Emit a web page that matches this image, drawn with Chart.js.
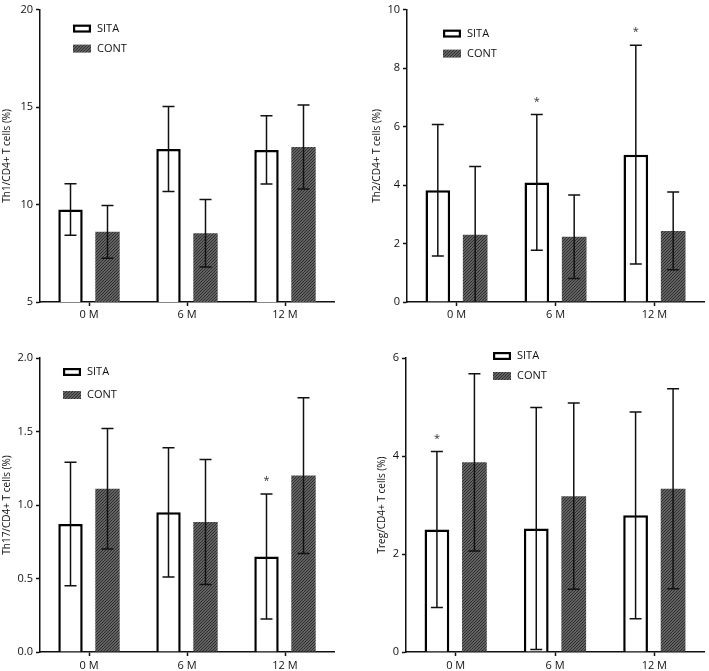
<!DOCTYPE html>
<html><head><meta charset="utf-8">
<script src="https://cdn.jsdelivr.net/npm/chart.js@4"></script>
<style>
html,body{margin:0;padding:0;background:#fff;}
#wrap{position:relative;width:709px;height:671px;overflow:hidden;}
canvas{position:absolute;}
</style></head><body>
<div id="wrap">
<canvas id="c1" width="354" height="335" style="left:0;top:0"></canvas>
<canvas id="c2" width="355" height="335" style="left:354px;top:0"></canvas>
<canvas id="c3" width="354" height="336" style="left:0;top:335px"></canvas>
<canvas id="c4" width="355" height="336" style="left:354px;top:335px"></canvas>
</div>
<script>
// ---------- data ----------
const categories = ['0 M', '6 M', '12 M'];
const seriesNames = ['SITA', 'CONT'];

const th1Sita   = [9.75, 12.85, 12.80];
const th1SitaSd = [1.32, 2.18, 1.75];
const th1Cont   = [8.60, 8.53, 12.95];
const th1ContSd = [1.35, 1.73, 2.15];
const th1Stars  = [false, false, false];
const th1Ticks  = [5, 10, 15, 20];

const th2Sita   = [3.82, 4.09, 5.04];
const th2SitaSd = [2.25, 2.32, 3.74];
const th2Cont   = [2.30, 2.23, 2.43];
const th2ContSd = [2.33, 1.43, 1.33];
const th2Stars  = [false, true, true];
const th2Ticks  = [0, 2, 4, 6, 8, 10];

const th17Sita   = [0.87, 0.95, 0.65];
const th17SitaSd = [0.42, 0.44, 0.425];
const th17Cont   = [1.11, 0.885, 1.20];
const th17ContSd = [0.41, 0.425, 0.53];
const th17Stars  = [false, false, true];
const th17Ticks  = [0, 0.5, 1.0, 1.5, 2.0];

const tregSita   = [2.50, 2.52, 2.79];
const tregSitaSd = [1.59, 2.47, 2.11];
const tregCont   = [3.87, 3.18, 3.33];
const tregContSd = [1.81, 1.90, 2.04];
const tregStars  = [true, false, false];
const tregTicks  = [0, 2, 4, 6];

// ---------- drawing helpers ----------
const FONT = '"Open Sans", "Noto Sans", sans-serif';
const INK = '#111';

function hatch(ctx) {
  const c = document.createElement('canvas');
  c.width = 3; c.height = 3;
  const g = c.getContext('2d');
  g.fillStyle = '#626262';
  g.fillRect(0, 0, 3, 3);
  g.strokeStyle = '#2e2e2e';
  g.lineWidth = 1;
  g.beginPath();
  g.moveTo(0, 3); g.lineTo(3, 0);
  g.moveTo(-1, 1); g.lineTo(1, -1);
  g.moveTo(2, 4); g.lineTo(4, 2);
  g.stroke();
  return ctx.createPattern(c, 'repeat');
}

const errPlugin = {
  id: 'errbars',
  afterDatasetsDraw(chart, args, opts) {
    const ctx = chart.ctx, y = chart.scales.y;
    ctx.save();
    ctx.strokeStyle = INK;
    ctx.fillStyle = '#333';
    ctx.lineWidth = 1.5;
    chart.data.datasets.forEach((ds, di) => {
      const meta = chart.getDatasetMeta(di);
      meta.data.forEach((bar, i) => {
        const m = ds.data[i], e = ds.errors[i];
        const top = y.getPixelForValue(m + e);
        let lowV = m - e;
        const clipped = lowV < y.min;
        if (clipped) lowV = y.min;
        const bot = y.getPixelForValue(lowV);
        const x = bar.x;
        ctx.beginPath();
        ctx.moveTo(x, top); ctx.lineTo(x, bot);
        ctx.moveTo(x - 6, top); ctx.lineTo(x + 6, top);
        if (!clipped) { ctx.moveTo(x - 6, bot); ctx.lineTo(x + 6, bot); }
        ctx.stroke();
        if (ds.stars && ds.stars[i]) {
          ctx.font = '11px ' + FONT;
          ctx.textAlign = 'center';
          ctx.textBaseline = 'alphabetic';
          ctx.fillText('*', x, top - 10);
        }
      });
    });
    ctx.restore();
  },
  afterDraw(chart, args, opts) {
    const ctx = chart.ctx, a = chart.chartArea;
    const lx = a.left + opts.dx, ly = a.top + opts.dy;
    ctx.save();
    chart.data.datasets.forEach((ds, di) => {
      const yy = ly + di * opts.gap;
      if (di === 0) {
        ctx.fillStyle = '#fff';
        ctx.fillRect(lx, yy, 18, 8);
        ctx.strokeStyle = '#000';
        ctx.lineWidth = 2.2;
        ctx.strokeRect(lx + 1.1, yy + 1.1, 15.8, 5.8);
      } else {
        ctx.fillStyle = ds.backgroundColor;
        ctx.fillRect(lx, yy, 18, 8);
      }
      ctx.fillStyle = INK;
      ctx.font = '11px ' + FONT;
      ctx.textAlign = 'left';
      ctx.textBaseline = 'middle';
      ctx.fillText(ds.label, lx + 24, yy + 4);
    });
    ctx.restore();
  }
};

function makeChart(id, p) {
  const canvas = document.getElementById(id);
  const ctx = canvas.getContext('2d');
  const pat = hatch(ctx);
  return new Chart(ctx, {
    type: 'bar',
    data: {
      labels: categories,
      datasets: [
        { label: seriesNames[0], data: p.sita, errors: p.sitaSd, stars: p.stars,
          backgroundColor: '#ffffff', borderColor: '#000', borderWidth: 2.5 },
        { label: seriesNames[1], data: p.cont, errors: p.contSd,
          backgroundColor: pat, borderWidth: 0 }
      ]
    },
    options: {
      responsive: false,
      animation: false,
      categoryPercentage: 0.755,
      barPercentage: 0.66,
      layout: { padding: { left: p.padL, top: p.padT, right: p.padR, bottom: 0 } },
      plugins: {
        legend: { display: false },
        tooltip: { enabled: false },
        errbars: { dx: p.legX, dy: p.legY, gap: p.legGap }
      },
      scales: {
        x: {
          offset: true,
          grid: { display: true, offset: false, drawOnChartArea: false, drawTicks: true,
                  tickLength: 4, tickColor: INK, tickWidth: 1.5 },
          border: { display: true, color: INK, width: 1.5 },
          ticks: { font: { family: FONT, size: 11 }, color: INK, padding: p.xPad, maxRotation: 0 },
          afterFit: s => { s.height = p.xH; }
        },
        y: {
          min: p.ticks[0],
          max: p.ticks[p.ticks.length - 1],
          afterBuildTicks: s => { s.ticks = p.ticks.map(v => ({ value: v })); },
          afterFit: s => { s.width = p.yW; },
          grid: { display: true, drawOnChartArea: false, drawTicks: true,
                  tickLength: 4, tickColor: INK, tickWidth: 1.5 },
          border: { display: true, color: INK, width: 1.5 },
          ticks: { font: { family: FONT, size: 11 }, color: INK, padding: 3,
                   callback: v => p.fmt(v) },
          title: { display: true, text: p.title, color: INK,
                   font: { family: FONT, size: 10 }, padding: { top: 1, bottom: 0 } }
        }
      }
    },
    plugins: [errPlugin]
  });
}

makeChart('c1', {
  sita: th1Sita, sitaSd: th1SitaSd, cont: th1Cont, contSd: th1ContSd, stars: th1Stars,
  ticks: th1Ticks, fmt: v => String(v), title: 'Th1/CD4+ T cells (%)',
  padL: 0, padT: 7, padR: 20, yW: 40, xH: 33, xPad: 2,
  legX: 33, legY: 15, legGap: 20
});
makeChart('c2', {
  sita: th2Sita, sitaSd: th2SitaSd, cont: th2Cont, contSd: th2ContSd, stars: th2Stars,
  ticks: th2Ticks, fmt: v => String(v), title: 'Th2/CD4+ T cells (%)',
  padL: 16, padT: 7, padR: 5, yW: 37, xH: 33, xPad: 2,
  legX: 36, legY: 20, legGap: 20
});
makeChart('c3', {
  sita: th17Sita, sitaSd: th17SitaSd, cont: th17Cont, contSd: th17ContSd, stars: th17Stars,
  ticks: th17Ticks, fmt: v => v.toFixed(1), title: 'Th17/CD4+ T cells (%)',
  padL: 0, padT: 23, padR: 20, yW: 40, xH: 19, xPad: 3,
  legX: 23, legY: 10, legGap: 23
});
makeChart('c4', {
  sita: tregSita, sitaSd: tregSitaSd, cont: tregCont, contSd: tregContSd, stars: tregStars,
  ticks: tregTicks, fmt: v => String(v), title: 'Treg/CD4+ T cells (%)',
  padL: 21, padT: 23, padR: 5, yW: 31, xH: 19, xPad: 3,
  legX: 87, legY: -6, legGap: 20
});
</script>
</body></html>
